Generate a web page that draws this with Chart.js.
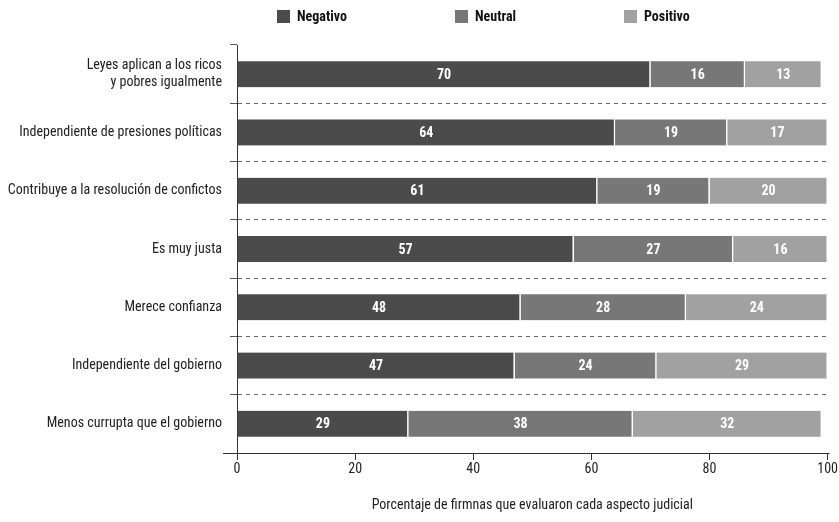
<!DOCTYPE html>
<html>
<head>
<meta charset="utf-8">
<script src="https://cdn.jsdelivr.net/npm/chart.js@4/dist/chart.umd.min.js"></script>
<style>
  html, body { margin: 0; padding: 0; background: #fff; }
  #wrap { width: 839px; height: 522px; position: relative; }
</style>
</head>
<body>
<div id="wrap"><canvas id="chart"></canvas></div>
<script>
const categories = [
  ["Leyes aplican a los ricos", "y pobres igualmente"],
  "Independiente de presiones políticas",
  "Contribuye a la resolución de confictos",
  "Es muy justa",
  "Merece confianza",
  "Independiente del gobierno",
  "Menos currupta que el gobierno",
];
const negativo = [70, 64, 61, 57, 48, 47, 29];
const neutral = [16, 19, 19, 27, 28, 24, 38];
const positivo = [13, 17, 20, 16, 24, 29, 32];
const xTicks = [0, 20, 40, 60, 80, 100];

const FONT = "'Roboto Condensed', 'DejaVu Sans Condensed', sans-serif";
const colors = ["#4a4b4a", "#767776", "#a0a1a0"];

// etiquetas blancas dentro de cada segmento
const valueLabels = {
  id: "valueLabels",
  afterDatasetsDraw(chart) {
    const ctx = chart.ctx;
    ctx.save();
    ctx.fillStyle = "#fff";
    ctx.font = "bold 14px " + FONT;
    ctx.textAlign = "center";
    ctx.textBaseline = "middle";
    chart.data.datasets.forEach((ds, i) => {
      chart.getDatasetMeta(i).data.forEach((bar, j) => {
        const p = bar.getProps(["x", "y", "base"], true);
        ctx.fillText(String(ds.data[j]), (p.x + p.base) / 2, p.y + 1);
      });
    });
    ctx.restore();
  },
};

// leyenda arriba y extensión del eje x
const topLegend = {
  id: "topLegend",
  afterDraw(chart) {
    const ctx = chart.ctx;
    const xs = [277, 455, 624];
    ctx.save();
    ctx.font = "bold 14px " + FONT;
    ctx.textBaseline = "middle";
    chart.data.datasets.forEach((ds, i) => {
      ctx.fillStyle = ds.backgroundColor;
      ctx.fillRect(xs[i], 10, 13, 13);
      ctx.fillStyle = "#111";
      ctx.fillText(ds.label, xs[i] + 20, 17);
    });
    const a = chart.chartArea;
    ctx.strokeStyle = "#333";
    ctx.lineWidth = 1;
    ctx.beginPath();
    ctx.moveTo(a.left - 14, Math.round(a.bottom) + 0.5);
    ctx.lineTo(a.right + 2, Math.round(a.bottom) + 0.5);
    ctx.stroke();
    ctx.restore();
  },
};

const makeDs = (label, data, color) => ({
  label,
  data,
  backgroundColor: color,
  borderColor: "#fff",
  borderWidth: { left: 0, right: 1.5, top: 0, bottom: 0 },
  borderSkipped: false,
  barThickness: 26,
});

new Chart(document.getElementById("chart"), {
  type: "bar",
  data: {
    labels: categories,
    datasets: [
      makeDs("Negativo", negativo, colors[0]),
      makeDs("Neutral", neutral, colors[1]),
      makeDs("Positivo", positivo, colors[2]),
    ],
  },
  options: {
    indexAxis: "y",
    responsive: true,
    maintainAspectRatio: false,
    animation: false,
    layout: { padding: { top: 45, right: 11, left: 0, bottom: 0 } },
    plugins: { legend: { display: false }, tooltip: { enabled: false } },
    scales: {
      x: {
        stacked: true,
        min: 0,
        max: 100,
        afterBuildTicks: (scale) => {
          scale.ticks = xTicks.map((v) => ({ value: v }));
        },
        afterFit: (scale) => { scale.height = 69; },
        border: { display: true, color: "#333", width: 1 },
        grid: { drawOnChartArea: false, tickLength: 7, color: "#333" },
        ticks: {
          color: "#222",
          padding: 1,
          maxRotation: 0,
          font: { family: FONT, size: 14 },
        },
        title: {
          display: true,
          text: "Porcentaje de firmnas que evaluaron cada aspecto judicial",
          color: "#222",
          font: { family: FONT, size: 14 },
          padding: { top: 0, bottom: 8 },
        },
      },
      y: {
        stacked: true,
        afterFit: (scale) => { scale.width = 237; },
        border: { display: true, color: "#333", width: 1, dash: [4, 4] },
        grid: {
          offset: true,
          tickLength: 7,
          color: (c) => (c.index === 0 || c.index === categories.length ? "rgba(0,0,0,0)" : "#666"),
          tickColor: "#555",
          tickBorderDash: [],
        },
        ticks: {
          color: "#222",
          padding: 8,
          font: { family: FONT, size: 14, lineHeight: 1.2 },
        },
      },
    },
  },
  plugins: [valueLabels, topLegend],
});
</script>
</body>
</html>
